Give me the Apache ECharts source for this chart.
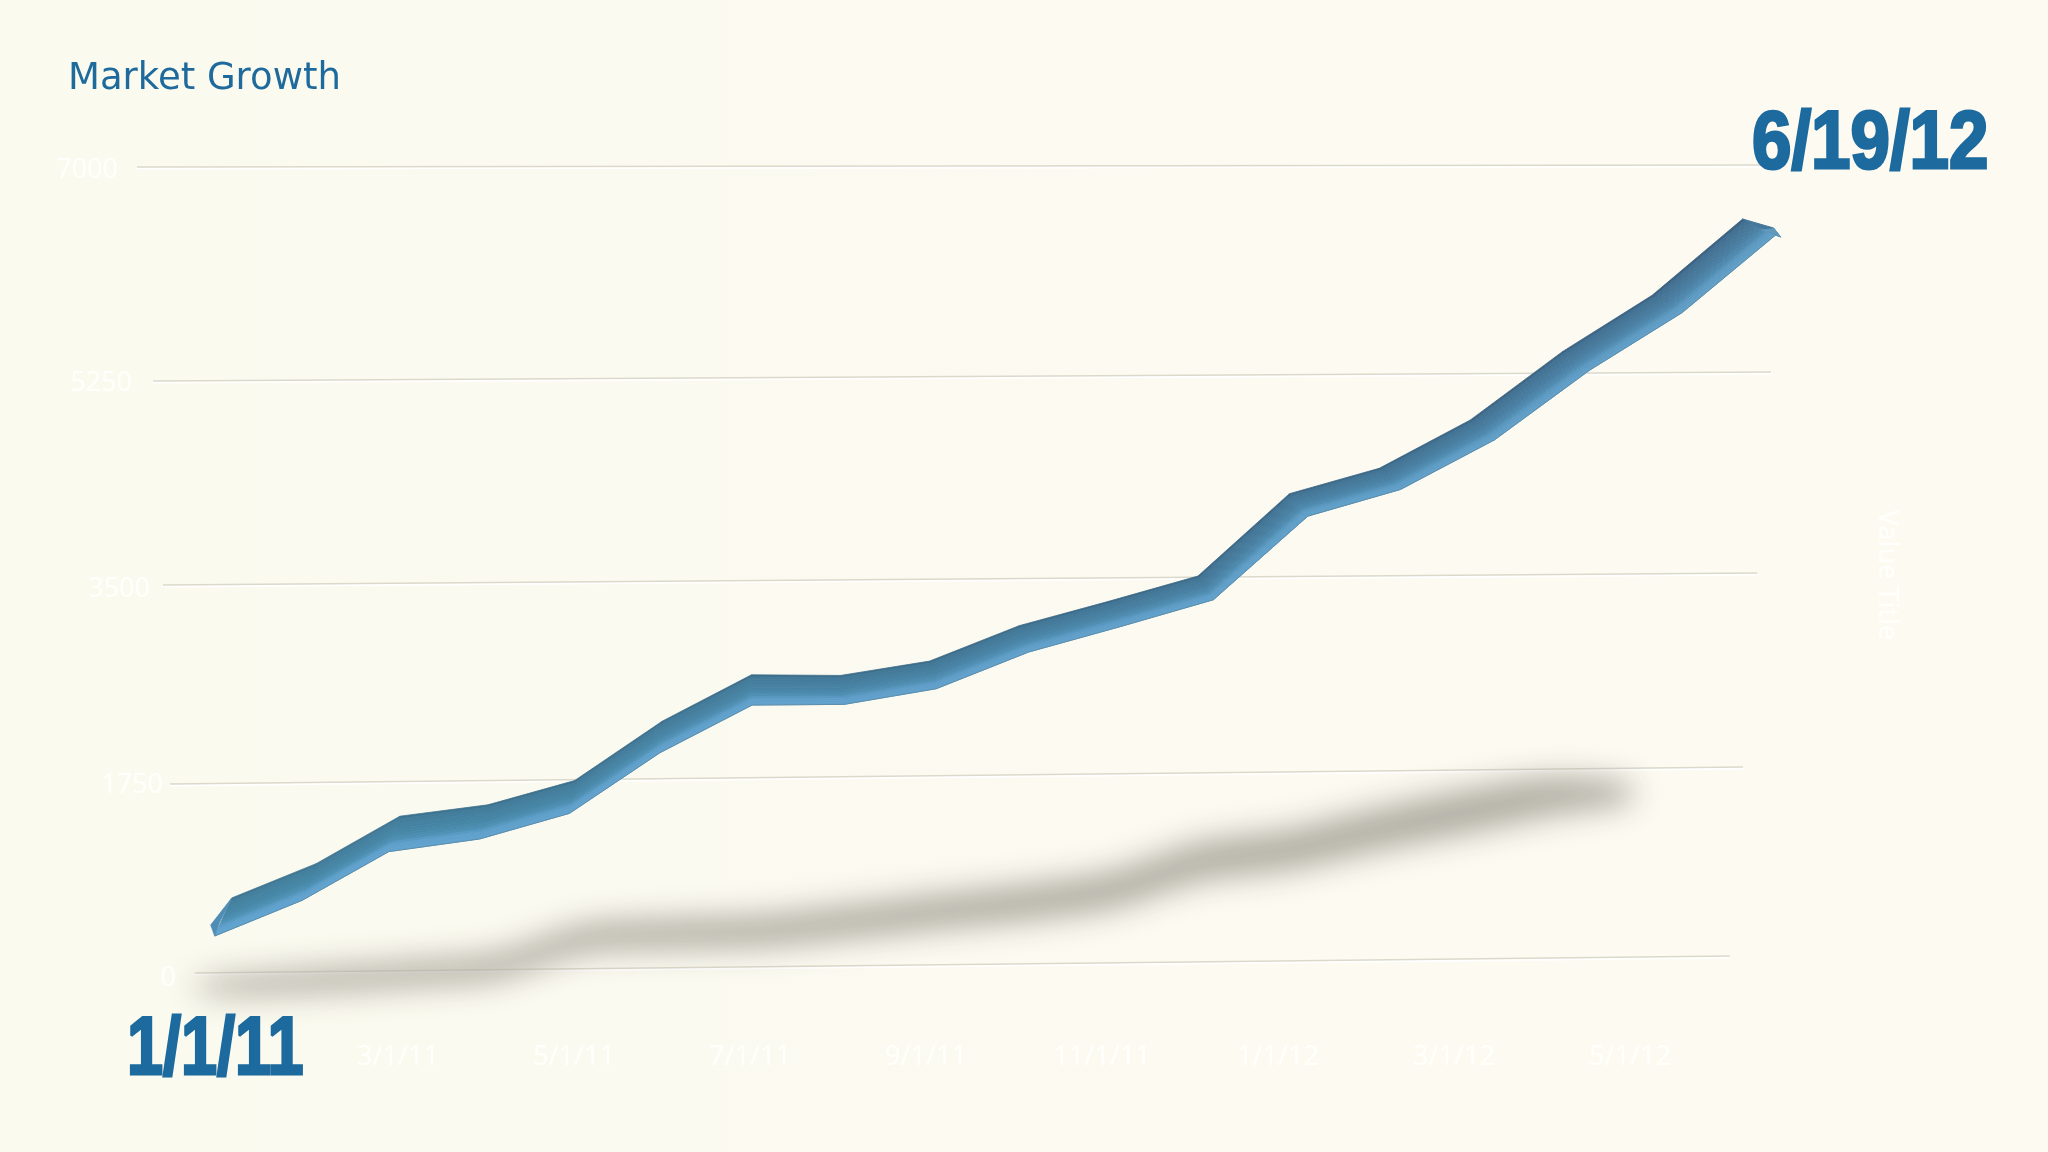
<!DOCTYPE html>
<html>
<head>
<meta charset="utf-8">
<style>html,body{margin:0;padding:0;width:2048px;height:1152px;background:#fbfaf0}#c{width:2048px;height:1152px}</style>
<script src="https://cdn.jsdelivr.net/npm/echarts@6/dist/echarts.min.js"></script>
</head>
<body>
<div id="c"></div>
<script>
const categories = ['1/1/11','2/1/11','3/1/11','4/1/11','5/1/11','6/1/11','7/1/11','8/1/11','9/1/11','10/1/11','11/1/11','12/1/11','1/1/12','2/1/12','3/1/12','4/1/12','5/1/12','6/19/12'];
const marketValues = [515,830,1266,1368,1590,2120,2529,2522,2648,2962,3178,3404,4120,4341,4761,5352,5829,6476];
const shadowValues = [-120,-78,-30,34,275,313,331,406,490,565,676,926,1028,1204,1361,1500];
const tickValues = [0,1750,3500,5250,7000];
const chartTitle = 'Market Growth';
const startLabel = '1/1/11';
const endLabel = '6/19/12';
const axisTitle = 'Value Title';

// Perspective of the plot floor: where each tick level lands on the page.
const levelYLeft  = [973,784,585,381,167];
const levelYRight = [956,767,573,372,165];
const levelXLeft  = [195,170,163,153,137];
const levelXRight = [1730,1743,1757,1771,1775];
const labelRight  = [176,163,150,132,118];
const labelY      = [978,785,589,383,170];
const GRID = {left:222, right:2048-1718, top:165, bottom:1152-1030};

function levelAt(v){
  const n = tickValues.length-1;
  let k = Math.floor(v/1750); k = Math.max(0,Math.min(n-1,k));
  return {k, f:(v-tickValues[k])/(tickValues[k+1]-tickValues[k])};
}
function lerp(a,b,t){return a+(b-a)*t;}
function project(api, i, v){
  const p = api.coord([i, v]);
  const gh = 1152-GRID.top-GRID.bottom, gw = 2048-GRID.left-GRID.right;
  const val = (1152-GRID.bottom-p[1])/gh*7000;
  const s = (p[0]-GRID.left)/gw;
  const u = 0.023+0.968*s+0.022*s*(1-s);
  const {k,f} = levelAt(val);
  const yl = lerp(levelYLeft[k],levelYLeft[k+1],f), yr = lerp(levelYRight[k],levelYRight[k+1],f);
  const xl = lerp(levelXLeft[k],levelXLeft[k+1],f), xr = lerp(levelXRight[k],levelXRight[k+1],f);
  return [lerp(xl,xr,u), lerp(yl,yr,u)];
}
const N = marketValues.length-1;
function edges(api,i){
  const m = project(api,i,marketValues[i]);
  const t = i/N;
  const dx = 17-50*t, dy = -38+22*t;
  return {top:[m[0]+dx/2, m[1]+dy/2], low:[m[0]-dx/2, m[1]-dy/2]};
}
function mix(a,b,t){return [0,1,2].map(j=>lerp(a[j],b[j],t));}
const rampLeft  = [[60,112,138],[66,126,156],[70,136,168],[78,146,182],[94,160,204],[98,164,208]];
const rampRight = [[54,90,122],[66,110,144],[74,126,162],[80,138,176],[92,152,192],[98,160,200]];
const rampStops = [0,0.1,0.5,0.68,0.8,1];
function rampColor(s,t){
  let n=0; while(n<rampStops.length-2 && s>rampStops[n+1]) n++;
  const f=(s-rampStops[n])/(rampStops[n+1]-rampStops[n]);
  const c=mix(mix(rampLeft[n],rampLeft[n+1],f),mix(rampRight[n],rampRight[n+1],f),t);
  return 'rgb('+c.map(Math.round).join(',')+')';
}
const STRIPS = 14;
function renderRibbon(params, api){
  const i = api.value(0);
  if(i>=N){
    const e = edges(api,i);
    const corner=[e.top[0]+31,e.top[1]+9], tip=[e.low[0]+5,e.low[1]+2], inner=[e.low[0]-14,e.low[1]-5];
    return {type:'group',children:[
      {type:'polygon',shape:{points:[e.top,corner,tip,e.low]},style:{fill:'#44789b',stroke:'#44789b',lineWidth:1}},
      {type:'polygon',shape:{points:[[corner[0]-2,corner[1]+1],corner,tip,e.low,inner]},style:{fill:'#6199bc',stroke:'#6199bc',lineWidth:1}}
    ]};
  }
  const a = edges(api,i), b = edges(api,i+1), t = i/N, kids=[];
  for(let s=0;s<STRIPS;s++){
    const s0=s/STRIPS, s1=(s+1)/STRIPS;
    const at=[lerp(a.top[0],a.low[0],s0),lerp(a.top[1],a.low[1],s0)];
    const bt=[lerp(b.top[0],b.low[0],s0),lerp(b.top[1],b.low[1],s0)];
    const bl=[lerp(b.top[0],b.low[0],s1),lerp(b.top[1],b.low[1],s1)];
    const al=[lerp(a.top[0],a.low[0],s1),lerp(a.top[1],a.low[1],s1)];
    const c=rampColor((s+0.5)/STRIPS,t);
    kids.push({type:'polygon',shape:{points:[at,bt,bl,al]},style:{fill:c,stroke:c,lineWidth:0.8}});
  }
  kids.push({type:'line',shape:{x1:a.low[0],y1:a.low[1],x2:b.low[0],y2:b.low[1]},style:{stroke:'#5c8dac',lineWidth:1}});
  if(i===0){
    kids.push({type:'polygon',shape:{points:[a.top,[a.low[0]-4,a.low[1]-11],a.low,[a.low[0]+5,a.low[1]-14]]},style:{fill:'#4f8db6',stroke:'#4f8db6',lineWidth:0.8}});
  }
  return {type:'group',children:kids};
}
function renderGridline(params, api){
  const k = params.dataIndex;
  const y0 = levelYLeft[k], y1 = levelYRight[k];
  const x0 = levelXLeft[k], x1 = levelXRight[k];
  return {type:'group',children:[
    {type:'line',shape:{x1:x0,y1:y0+1.5,x2:x1,y2:y1+1.5},style:{stroke:'#ffffff',lineWidth:2}},
    {type:'line',shape:{x1:x0,y1:y0,x2:x1,y2:y1},style:{stroke:'#dcd9cb',lineWidth:1.5}},
    {type:'text',style:{text:String(api.value(0)),x:labelRight[k],y:labelY[k],align:'right',verticalAlign:'middle',
      fill:'#fffffb',font:'27px "Noto Sans"'}}
  ]};
}
const SHADOW_SHIFT = 3000;
function renderShadow(params, api){
  if(params.dataIndex>0) return;
  const pts = shadowValues.map((v,i)=>project(api,i,v));
  const last = pts[pts.length-1], first = pts[0];
  pts.unshift([first[0]-35,first[1]+1]);
  pts.push([last[0]+78,last[1]-3]);
  const n = pts.length;
  const half = pts.map((p,j)=>{
    const e = Math.min(1,0.35+Math.min(j,n-1-j)*0.5);
    return (10+13*j/(n-1))*e;
  });
  const poly = pts.map((p,j)=>[p[0]-SHADOW_SHIFT,p[1]-half[j]])
    .concat(pts.slice().reverse().map((p,j)=>[p[0]-SHADOW_SHIFT,p[1]+half[n-1-j]]));
  return {type:'polygon',shape:{points:poly,smooth:0.3},style:{
    fill:'#000',shadowColor:'rgba(172,169,158,0.95)',shadowBlur:30,shadowOffsetX:SHADOW_SHIFT}};
}

const option = {
  animation:false,
  backgroundColor:new echarts.graphic.LinearGradient(0,0,1,0,[{offset:0,color:'#fafaef'},{offset:1,color:'#fdfaf2'}]),
  grid:GRID,
  xAxis:{type:'category',data:categories,boundaryGap:false,
    axisLine:{show:false},axisTick:{show:false},splitLine:{show:false},
    axisLabel:{interval:1,margin:14,fontSize:27,fontFamily:'"Noto Sans"',color:'#fffffb',
      formatter:(v,i)=>i===0?'':v}},
  yAxis:{type:'value',min:0,max:7000,interval:1750,
    axisLine:{show:false},axisTick:{show:false},splitLine:{show:false},axisLabel:{show:false}},
  series:[
    {type:'custom',name:'grid',clip:false,silent:true,z:1,
     encode:{x:1,y:0},data:tickValues.map(v=>[v,0]),renderItem:renderGridline},
    {type:'custom',name:'shadow',clip:false,silent:true,z:2,
     data:shadowValues.map((v,i)=>[i,v]),renderItem:renderShadow},
    {type:'custom',name:'Market',clip:false,silent:true,z:3,
     data:marketValues.map((v,i)=>[i,v]),renderItem:renderRibbon}
  ],
  graphic:[
    {type:'text',x:68,y:61,style:{text:chartTitle,fill:'#1f6a9c',font:'37px "DejaVu Sans"'},z:10},
    {type:'text',x:127,y:1010,scaleX:0.79,style:{text:startLabel,fill:'#1c6a9e',font:'bold 82px "Liberation Sans"',stroke:'#1c6a9e',lineWidth:3},z:10},
    {type:'text',x:1752,y:104,scaleX:0.864,style:{text:endLabel,fill:'#1c6a9e',font:'bold 82px "Liberation Sans"',stroke:'#1c6a9e',lineWidth:3},z:10},
    {type:'text',x:1887,y:575,rotation:-Math.PI/2,style:{text:axisTitle,fill:'#fffffb',font:'27px "Noto Sans"',align:'center',verticalAlign:'middle'},z:10}
  ]
};
const chart = echarts.init(document.getElementById('c'),null,{renderer:'canvas',width:2048,height:1152});
chart.setOption(option);
</script>
</body>
</html>
